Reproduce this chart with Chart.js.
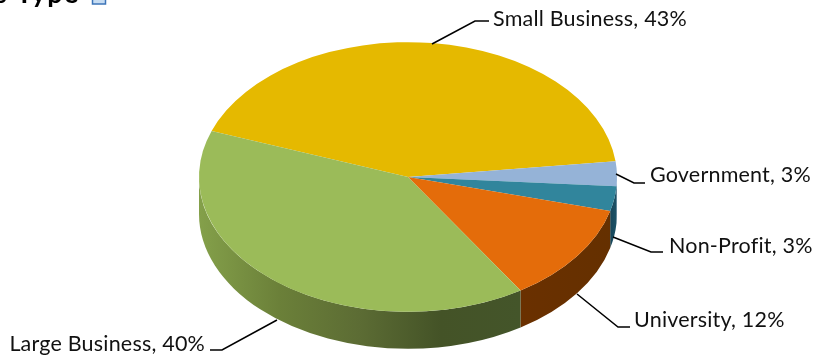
<!DOCTYPE html>
<html>
<head>
<meta charset="utf-8">
<style>
  html, body { margin: 0; padding: 0; background: #fff; overflow: hidden; }
  #wrap { position: relative; width: 817px; height: 356px; }
  canvas { display: block; }
</style>
<script src="https://cdn.jsdelivr.net/npm/chart.js@4/dist/chart.umd.min.js"></script>
</head>
<body>
<div id="wrap"><canvas id="pie" width="817" height="356"></canvas></div>
<script>
// Respondents by organisation type, clockwise from the upper left of the pie.
const categories = ["Small Business", "Government", "Non-Profit", "University", "Large Business"];
const shares = [43, 3, 3, 12, 40];
const topColors = ["#E5B900", "#95B3D7", "#31859C", "#E46C0A", "#9BBB59"];
// Side wall shades: colour stops of each slice's horizontal gradient.
const wallColors = [
  ["#8a6f00", "#8a6f00"],
  ["#5a7a9e", "#2f4a68"],
  ["#17465a", "#1c5266"],
  ["#6a3000", "#653000"],
  ["#84a04a", "#6b8039", "#5c6c34", "#445327", "#44552a"]
];

// Projection of the round pie onto the tilted plane.
const TILT = 0.645;
const DEPTH = 37;
const RADIUS = 209;

// Callout geometry: elbow polyline and where the text begins.
const callouts = [
  { line: [[432, 44], [475, 21], [489, 21]], text: [493, 19], align: "left" },
  { line: [[616, 174], [634, 183], [645, 183]], text: [650, 175], align: "left" },
  { line: [[613, 237], [651, 252], [663, 252]], text: [669, 246], align: "left" },
  { line: [[577, 294], [618, 327], [630, 327]], text: [634, 320], align: "left" },
  { line: [[277, 320], [222, 350], [210, 350]], text: [205, 344], align: "right" }
];

const tiltPie = {
  id: "tiltPie",
  // Side walls are extruded from the arcs' own angles, only along the front half.
  beforeDatasetsDraw(chart) {
    const ctx = chart.ctx;
    const arcs = chart.getDatasetMeta(0).data;
    arcs.forEach((arc, i) => {
      const tau = Math.PI * 2;
      let a0 = arc.startAngle, a1 = arc.endAngle;
      while (a0 >= tau) { a0 -= tau; a1 -= tau; }
      const parts = [[a0, Math.min(a1, Math.PI)], [a0 + tau, Math.min(a1, tau + Math.PI)], [a0 - tau, Math.min(a1 - tau, Math.PI)]];
      parts.forEach(([s, e]) => {
        s = Math.max(s, 0);
        if (e <= s) return;
        const r = arc.outerRadius, ry = r * TILT;
        const x0 = arc.x + Math.cos(s) * r, x1 = arc.x + Math.cos(e) * r;
        const g = ctx.createLinearGradient(Math.min(x0, x1), 0, Math.max(x0, x1), 0);
        const stops = wallColors[i];
        stops.forEach((c, k) => g.addColorStop(k / (stops.length - 1), c));
        ctx.beginPath();
        ctx.ellipse(arc.x, arc.y, r, ry, 0, s, e);
        ctx.ellipse(arc.x, arc.y + DEPTH, r, ry, 0, e, s, true);
        ctx.closePath();
        ctx.fillStyle = g;
        ctx.fill();
      });
    });
  },
  beforeDatasetDraw(chart) {
    const arc = chart.getDatasetMeta(0).data[0];
    chart.ctx.save();
    chart.ctx.translate(arc.x, arc.y);
    chart.ctx.scale(1, TILT);
    chart.ctx.translate(-arc.x, -arc.y);
  },
  afterDatasetDraw(chart) {
    chart.ctx.restore();
  },
  afterDatasetsDraw(chart) {
    const ctx = chart.ctx;
    ctx.save();
    ctx.strokeStyle = "#000";
    ctx.lineWidth = 1.5;
    ctx.fillStyle = "#111";
    ctx.font = '21.5px Lato, sans-serif';
    ctx.letterSpacing = "0.2px";
    ctx.textBaseline = "middle";
    callouts.forEach((c, i) => {
      ctx.beginPath();
      c.line.forEach(([x, y], k) => k ? ctx.lineTo(x, y) : ctx.moveTo(x, y));
      ctx.stroke();
      ctx.textAlign = c.align;
      ctx.fillText(`${categories[i]}, ${shares[i]}%`, c.text[0], c.text[1]);
    });
    // Tail of the page heading, cut off by the top edge, with its small icon.
    ctx.fillStyle = "#000";
    ctx.font = 'bold 27px Lato, sans-serif';
    ctx.letterSpacing = "1.4px";
    ctx.textAlign = "left";
    ctx.textBaseline = "alphabetic";
    ctx.fillText("s Type", -5, 3);
    ctx.letterSpacing = "0px";
    ctx.fillStyle = "#C6DCF2";
    ctx.fillRect(92, -2, 14, 6);
    ctx.strokeStyle = "#3C74B8";
    ctx.lineWidth = 1.5;
    ctx.strokeRect(92.5, -2, 13, 6);
    ctx.restore();
  }
};

new Chart(document.getElementById("pie"), {
  type: "pie",
  data: {
    labels: categories,
    datasets: [{
      data: shares,
      backgroundColor: topColors,
      borderWidth: 0,
      radius: RADIUS,
      clip: false
    }]
  },
  options: {
    responsive: false,
    animation: false,
    rotation: 290,
    layout: { padding: { left: 0, right: 1, top: 0, bottom: 2 } },
    plugins: { legend: { display: false }, title: { display: false }, tooltip: { enabled: false } }
  },
  plugins: [tiltPie]
});
</script>
</body>
</html>
